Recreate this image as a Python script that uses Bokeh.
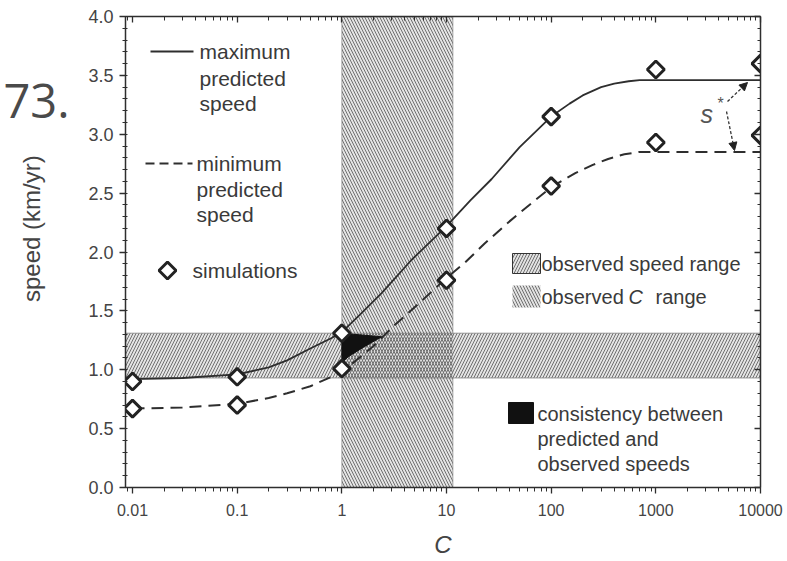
import numpy as np
from bokeh.plotting import figure
from bokeh.models import (Range1d, LogAxis, LinearAxis, FixedTicker, SingleIntervalTicker,
                          PrintfTickFormatter, CustomJSTickFormatter, Label, Arrow, NormalHead,
                          BoxAnnotation, LogScale)
from bokeh.embed import file_html
from bokeh.resources import INLINE

# ---------------- data ----------------
sim_C = [0.01, 0.1, 1, 10, 100, 1000, 10000]
sim_max = [0.90, 0.94, 1.31, 2.20, 3.15, 3.55, 3.60]
sim_min = [0.67, 0.70, 1.01, 1.76, 2.56, 2.93, 2.99]

max_C = [0.01, 0.03, 0.1, 0.2, 0.3, 0.5, 0.8, 1, 1.5, 2.4, 4.6, 10, 17, 27, 50, 100, 150, 200, 300, 400, 550, 700, 1000, 10000]
max_speed = [0.92, 0.93, 0.96, 1.02, 1.08, 1.18, 1.27, 1.32, 1.47, 1.65, 1.93, 2.22, 2.44, 2.62, 2.89, 3.15, 3.26, 3.33, 3.40, 3.43, 3.45, 3.46, 3.46, 3.46]

min_C = [0.01, 0.03, 0.1, 0.2, 0.3, 0.5, 1, 2, 3.2, 5.4, 10, 15, 23, 40, 66, 100, 170, 250, 350, 500, 700, 1000, 10000]
min_speed = [0.67, 0.68, 0.71, 0.76, 0.80, 0.86, 0.98, 1.20, 1.38, 1.56, 1.78, 1.91, 2.07, 2.26, 2.42, 2.55, 2.67, 2.74, 2.79, 2.83, 2.85, 2.85, 2.85]

obs_speed_range = [0.93, 1.31]
obs_C_range = [1.0, 11.5]

consistency_C = [1.0, 2.4, 1.6, 1.15, 1.0]
consistency_speed = [1.31, 1.28, 1.19, 1.11, 1.06]

x_tick_values = [0.01, 0.1, 1, 10, 100, 1000, 10000]
x_tick_labels = ["0.01", "0.1", "1", "10", "100", "1000", "10000"]

# ---------------- layout ----------------
X0, X1 = 10 ** -2.067, 1e4
Y0, Y1 = 0.0, 4.0
PX_L, PX_R, PX_T, PX_B = 125, 760, 16, 487
FONT = "Liberation Sans"
INK = "#2e2e2e"
TXT = "#3a3a3a"


def cx(px):
    a, b = np.log10(X0), np.log10(X1)
    return 10 ** (a + (px - PX_L) / (PX_R - PX_L) * (b - a))


def sy(py):
    return Y0 + (PX_B - py) / (PX_B - PX_T) * (Y1 - Y0)


p = figure(width=787, height=561, x_axis_type=None, y_axis_type=None,
           x_range=Range1d(X0, X1), y_range=Range1d(Y0, Y1),
           output_backend="svg", toolbar_location=None,
           min_border_left=PX_L, min_border_right=787 - PX_R,
           min_border_top=PX_T, min_border_bottom=561 - PX_B)
p.x_scale = LogScale()
p.outline_line_color = None
p.background_fill_color = "white"
p.border_fill_color = "white"

minor_x = [m * 10.0 ** e for e in range(-3, 4) for m in range(2, 10)]
xticker = FixedTicker(ticks=x_tick_values, minor_ticks=minor_x)
yticker = SingleIntervalTicker(interval=0.5, num_minor_ticks=5)

xa = LogAxis(ticker=xticker, axis_label="C")
xa.major_label_overrides = dict(zip(x_tick_values, x_tick_labels))
xa.axis_label_text_font_style = "italic"
xa.axis_label_text_font = FONT
xa.axis_label_text_font_size = "24px"
xa.axis_label_text_color = "#444"
xa.axis_label_standoff = 12
xa.major_label_text_font = FONT
xa.major_label_text_font_size = "16px"
xa.major_label_text_color = "#444"
xa.major_label_standoff = 10
xa.major_tick_out, xa.major_tick_in = 6, 0
xa.minor_tick_out, xa.minor_tick_in = 4, 0
p.add_layout(xa, "below")

ya = LinearAxis(ticker=yticker)
ya.formatter = PrintfTickFormatter(format="%.1f")
ya.major_label_text_font = FONT
ya.major_label_text_font_size = "18px"
ya.major_label_text_color = "#444"
ya.major_label_standoff = 6
ya.major_tick_out, ya.major_tick_in = 6, 0
ya.minor_tick_out, ya.minor_tick_in = 3, 2
p.add_layout(ya, "left")

blank = CustomJSTickFormatter(code="return ''")
ta = LogAxis(ticker=xticker, formatter=blank)
ta.major_tick_out, ta.major_tick_in = 0, 6
ta.minor_tick_out, ta.minor_tick_in = 0, 4
ta.major_label_standoff = 0
p.add_layout(ta, "above")
ra = LinearAxis(ticker=yticker, formatter=blank)
ra.major_tick_out, ra.major_tick_in = 0, 6
ra.minor_tick_out, ra.minor_tick_in = 0, 3
ra.major_label_standoff = 0
p.add_layout(ra, "right")
for ax in (xa, ya, ta, ra):
    ax.axis_line_color = INK
    ax.axis_line_width = 1.5
    ax.major_tick_line_color = INK
    ax.minor_tick_line_color = INK
    ax.major_tick_line_width = 1.3

# y-axis title on its own invisible axis; leading no-break spaces lift it like the reference
la = LinearAxis(ticker=FixedTicker(ticks=[]), axis_label="\u00a0" * 7 + "speed (km/yr)")
la.axis_label_text_font = FONT
la.axis_label_text_font_size = "24px"
la.axis_label_text_font_style = "normal"
la.axis_label_text_color = "#444"
la.axis_label_standoff = 41
la.major_label_standoff = 0
p.add_layout(la, "left")

# page-number fragment at the left edge, as the single label of another invisible axis
na = LinearAxis(ticker=FixedTicker(ticks=[sy(100)]), formatter=CustomJSTickFormatter(code="return '73.'"))
na.major_label_text_font = "Open Sans"
na.major_label_text_font_size = "47px"
na.major_label_text_color = "#4a4a4a"
na.major_label_standoff = -55
p.add_layout(na, "left")

for ax in (la, na):
    ax.axis_line_color = None
    ax.major_tick_line_color = None
    ax.minor_tick_line_color = None
    ax.major_tick_out = ax.major_tick_in = 0
    ax.minor_tick_out = ax.minor_tick_in = 0

# ---------------- observed ranges ----------------
FILL = "#d9d9d9"
HATCH = "#707070"
vfill = BoxAnnotation(left=obs_C_range[0], right=obs_C_range[1], fill_color=FILL, fill_alpha=0.7,
                      line_color="#333", line_width=1.3, level="underlay")
hfill = BoxAnnotation(bottom=obs_speed_range[0], top=obs_speed_range[1], fill_color=FILL, fill_alpha=0.7,
                      line_color="#333", line_width=1.3, level="underlay")
vhatch = BoxAnnotation(left=obs_C_range[0], right=obs_C_range[1], fill_alpha=0, line_alpha=0,
                       hatch_pattern="left_diagonal_line", hatch_color=HATCH, hatch_scale=6,
                       hatch_weight=1, level="underlay")
hhatch = BoxAnnotation(bottom=obs_speed_range[0], top=obs_speed_range[1], fill_alpha=0, line_alpha=0,
                       hatch_pattern="right_diagonal_line", hatch_color=HATCH, hatch_scale=6,
                       hatch_weight=1, level="underlay")
for b in (vfill, hfill, vhatch, hhatch):
    p.add_layout(b)

# ---------------- curves, region, simulations ----------------
p.line(max_C, max_speed, line_color=INK, line_width=1.8)
p.line(min_C, min_speed, line_color=INK, line_width=2.0, line_dash="12 7")
p.patch(consistency_C, consistency_speed, fill_color="#111", line_color="#111", line_width=1)
for ys in (sim_max, sim_min):
    p.scatter(sim_C, ys, marker="square", angle=np.pi / 4, size=12, line_width=3,
              line_color="#222", fill_color="white")


# ---------------- legend (drawn in place) ----------------
def label(text, px, py, size="20px", style="normal", color=TXT, font=FONT, baseline="middle"):
    p.add_layout(Label(x=cx(px), y=sy(py), text=text, text_font=font, text_font_size=size,
                       text_font_style=style, text_color=color, text_baseline=baseline,
                       text_align="left"))


p.line([cx(150), cx(193)], [sy(51), sy(51)], line_color=INK, line_width=2)
for t, yy in (("maximum", 51), ("predicted", 78), ("speed", 103)):
    label(t, 199, yy, size="21px")
p.line([cx(145), cx(192)], [sy(163), sy(163)], line_color=INK, line_width=2, line_dash="9 5")
for t, yy in (("minimum", 163), ("predicted", 189), ("speed", 214)):
    label(t, 196, yy, size="21px")
p.scatter([cx(167)], [sy(270)], marker="square", angle=np.pi / 4, size=12, line_width=3,
          line_color="#222", fill_color="white")
label("simulations", 192, 270, size="21px")

p.quad(left=[cx(512)], right=[cx(540)], bottom=[sy(273)], top=[sy(253)], fill_color=FILL,
       fill_alpha=0.8, line_color="#333", hatch_pattern="right_diagonal_line", hatch_color=HATCH,
       hatch_scale=6, hatch_weight=1)
label("observed speed range", 541, 263)
p.quad(left=[cx(512)], right=[cx(540)], bottom=[sy(307)], top=[sy(285)], fill_color=FILL,
       fill_alpha=0.8, line_color=None, hatch_pattern="left_diagonal_line", hatch_color=HATCH,
       hatch_scale=6, hatch_weight=1)
label("observed", 541, 296)
label("C", 628, 296, style="italic")
label("range", 655, 296)

p.quad(left=[cx(508)], right=[cx(533)], bottom=[sy(423)], top=[sy(402)], fill_color="#111",
       line_color="#111")
label("consistency between", 537, 413)
label("predicted and", 537, 438)
label("observed speeds", 537, 463)

# s* annotation
label("s", 700, 113, size="25px", style="italic", color="#555")
label("*", 717, 103, size="16px", color="#555")
p.add_layout(Arrow(x_start=cx(727), y_start=sy(101), x_end=cx(747), y_end=sy(82),
                   line_color="#333", line_width=1.3, line_dash="3 2",
                   end=NormalHead(size=8, fill_color="#222", line_color="#222")))
p.add_layout(Arrow(x_start=cx(726), y_start=sy(111), x_end=cx(734), y_end=sy(150),
                   line_color="#333", line_width=1.3, line_dash="3 2",
                   end=NormalHead(size=8, fill_color="#222", line_color="#222")))

open("out.html", "w").write(file_html(p, INLINE))
